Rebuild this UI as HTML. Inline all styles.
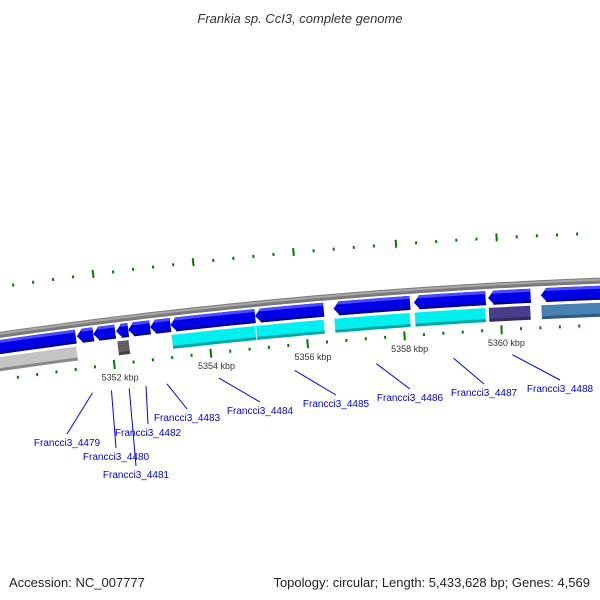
<!DOCTYPE html>
<html><head><meta charset="utf-8"><style>
body{margin:0;background:#fff}
svg{display:block;font-family:"Liberation Sans",sans-serif}
</style></head><body>
<svg id="chart" width="600" height="600" viewBox="0 0 600 600">
<text x="300" y="23" text-anchor="middle" font-size="13" font-style="italic" fill="#333">Frankia sp. CcI3, complete genome</text>
<text x="9" y="587" font-size="13" fill="#222">Accession: NC_007777</text>
<text x="590" y="587" text-anchor="end" font-size="13" fill="#222">Topology: circular; Length: 5,433,628 bp; Genes: 4,569</text>
<g id="g"></g>
</svg>
<script>
const geneStarts=[5349.5,5351.31,5351.65,5352.12,5352.37,5352.82,5353.24,5354.98,5356.59,5358.24,5359.76,5360.84];
const geneEnds=[5351.29,5351.65,5352.10,5352.37,5352.82,5353.24,5354.98,5356.39,5358.16,5359.71,5360.63,5362.6];
const geneNames=["","Francci3_4479","Francci3_4480","Francci3_4481","Francci3_4482","Francci3_4483","Francci3_4484","Francci3_4485","Francci3_4486","Francci3_4487","Francci3_4488",""];
const cogColors=["#c4c4c4",null,null,"#606060",null,null,"#00f0f0","#00f0f0","#00f0f0","#00f0f0","#483d8b","#4682b4"];
const labelX=[0,67,116,136,148,187,260,336,410,484,560,0];
const labelY=[0,443,457,475,433,418,411,404,398,393,389,0];
const majorTicks=[5352,5354,5356,5358,5360];
const majorLabels=["5352 kbp","5354 kbp","5356 kbp","5358 kbp","5360 kbp"];
const outerMajor=[5349.76,5351.8,5353.84,5355.88,5357.96,5360.0];

const NS="http://www.w3.org/2000/svg";
const g=document.getElementById('g');
const cx=805,cy=5902,R=5625;
function kx(k){return 107+(k-5352)*49;}
function pt(k,off){const t=(kx(k)-805)/R,r=R+off;return [cx+r*Math.sin(t),cy-r*Math.cos(t)];}
function mk(tag,attrs){const e=document.createElementNS(NS,tag);for(const a in attrs)e.setAttribute(a,attrs[a]);g.appendChild(e);return e;}
function arcPts(a,b,off){const p=[];const n=Math.max(2,Math.ceil((b-a)*4));for(let i=0;i<=n;i++){p.push(pt(a+(b-a)*i/n,off));}return p;}
function band(a,b,o1,o2){const p=arcPts(a,b,o1).concat(arcPts(a,b,o2).reverse());return p.map(q=>q[0].toFixed(1)+','+q[1].toFixed(1)).join(' ');}
function arrow(a,b,o1,o2,head){const h=Math.min(head,b-a);const p=[pt(a,(o1+o2)/2)].concat(arcPts(a+h,b,o1)).concat(arcPts(a+h,b,o2).reverse());return p.map(q=>q[0].toFixed(1)+','+q[1].toFixed(1)).join(' ');}

// backbone
let e=mk('polygon',{points:band(5349,5363,3,-3),fill:'#7a7a7a'});

e=mk('polygon',{points:band(5349,5363,2,0),fill:'#a8a8a8'});


// outer ticks
for(let i=0;i<outerMajor.length;i++){
  for(let j=-4;j<5;j++){
    const k=outerMajor[i]+j*0.408; if(j<0&&i>0)continue;
    const big=(j===0);
    const p1=pt(k,big?44:46),p2=pt(k,big?52:49);
    e=mk('line',{x1:p1[0],y1:p1[1],x2:p2[0],y2:p2[1],stroke:'#007a00','stroke-width':2});
    
  }
}
// inner ticks
for(let i=0;i<majorTicks.length;i++){
  for(let j=-5;j<5;j++){
    const k=majorTicks[i]+j*0.4; if(j<0&&i>0)continue;
    const big=(j===0);
    const p1=pt(k,big?-40:-43),p2=pt(k,big?-49:-46);
    e=mk('line',{x1:p1[0],y1:p1[1],x2:p2[0],y2:p2[1],stroke:'#007a00','stroke-width':2});
    
  }
  const lp=pt(majorTicks[i]+0.08,-61);
  e=mk('text',{x:lp[0],y:lp[1],'font-size':9,'text-anchor':'middle',fill:'#333'});
  e.textContent=majorLabels[i];
  
}
// genes
for(let i=0;i<geneStarts.length;i++){
  const a=geneStarts[i],b=geneEnds[i];
  e=mk('polygon',{points:arrow(a,b,-5,-19,0.12),fill:'#0000e8'});
  
  e=mk('polygon',{points:band(a+0.1,b,-5,-8),fill:'#4a4aff'});
  
  e=mk('polygon',{points:band(a+0.1,b,-16.5,-19),fill:'#000090'});
  
  if(cogColors[i]){
    e=mk('polygon',{points:band(a,b-0.02,-22,-36),fill:cogColors[i]});
    
    e=mk('polygon',{points:band(a,b-0.02,-33,-36),fill:'#000','fill-opacity':0.3});
    
  }
  if(geneNames[i]){
    const m=(a+b)/2, p=pt(m,-70);
    e=mk('line',{x1:p[0],y1:p[1],x2:labelX[i],y2:labelY[i]-9,stroke:'#0000ff','stroke-width':1});
    
    e=mk('text',{x:labelX[i],y:labelY[i]+3,'font-size':10,'text-anchor':'middle',fill:'#0000ee'});
    e.textContent=geneNames[i];
    
  }
}
</script>
</body></html>
